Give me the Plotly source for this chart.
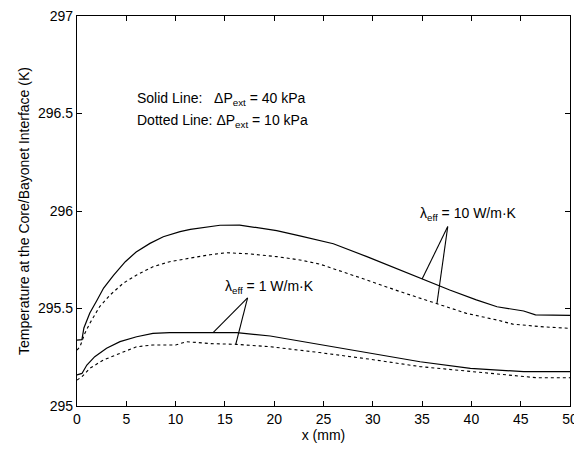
import plotly.graph_objects as go

# ---- data ----
x_hi_solid = [0, 0.5, 0.7, 1.3, 2.0, 2.7, 3.7, 4.9, 6.0, 7.4, 8.75, 10.45, 11.5, 13, 14.5, 16.5,
              18.9, 20.25, 22.6, 24.6, 26, 29.4, 32.8, 35.0, 37.8, 40.5, 42.6, 45.3, 46.5, 50]
y_hi_solid = [295.338, 295.34, 295.40, 295.477, 295.54, 295.605, 295.67, 295.74, 295.79, 295.834,
              295.868, 295.894, 295.906, 295.918, 295.927, 295.928, 295.91, 295.899, 295.872,
              295.848, 295.832, 295.766, 295.697, 295.651, 295.595, 295.544, 295.509, 295.487,
              295.467, 295.465]

x_hi_dot = [0, 0.3, 0.8, 1.3, 2.3, 3.35, 4.7, 6.05, 7.7, 9.4, 11.3, 13.5, 15.2, 17.5, 20.25,
            22.6, 24.6, 26, 29.4, 32.8, 36.5, 39.5, 42.6, 44.2, 47, 50]
y_hi_dot = [295.287, 295.304, 295.373, 295.424, 295.51, 295.569, 295.63, 295.672, 295.714, 295.74,
            295.757, 295.776, 295.786, 295.78, 295.766, 295.749, 295.728, 295.705, 295.646,
            295.586, 295.523, 295.475, 295.441, 295.42, 295.407, 295.398]

x_lo_solid = [0, 0.5, 1.0, 1.8, 3.0, 4.36, 6.05, 7.7, 9.4, 16.2, 19.6, 24.6, 29.7, 34.8, 39.9,
              45.3, 50]
y_lo_solid = [295.159, 295.167, 295.21, 295.253, 295.296, 295.33, 295.355, 295.372, 295.376,
              295.376, 295.359, 295.316, 295.274, 295.227, 295.193, 295.176, 295.176]

x_lo_dot = [0, 0.5, 1.3, 2.67, 4.36, 6.05, 7.7, 10.0, 11.1, 13.5, 16.2, 19.6, 24.6, 29.7, 34.8,
            39.9, 43.2, 46.6, 50]
y_lo_dot = [295.133, 295.15, 295.193, 295.236, 295.27, 295.304, 295.313, 295.313, 295.33, 295.32,
            295.316, 295.304, 295.274, 295.24, 295.202, 295.176, 295.159, 295.145, 295.145]

x_ticks = [0, 5, 10, 15, 20, 25, 30, 35, 40, 45, 50]
y_ticks = [295, 295.5, 296, 296.5, 297]
y_tick_text = ["295", "295.5", "296", "296.5", "297"]

x_title = "x (mm)"
y_title = "Temperature at the Core/Bayonet Interface (K)"

legend_lines = ["Solid Line:   ΔP<sub>ext</sub> = 40 kPa", "Dotted Line: ΔP<sub>ext</sub> = 10 kPa"]
label_hi = "λ<sub>eff</sub> = 10 W/m·K"
label_lo = "λ<sub>eff</sub> = 1 W/m·K"

# leader-line anchors (data coords): tip, and the two points on the curves
hi_tip, hi_ends = (37.6, 295.92), [(35.0, 295.651), (36.5, 295.523)]
lo_tip, lo_ends = (17.3, 295.554), [(13.8, 295.376), (16.1, 295.316)]

FONT = "Liberation Sans, Arial, sans-serif"

fig = go.Figure()
solid = dict(color="black", width=1.2)
dotted = dict(color="black", width=1.1, dash="3px,3px")
fig.add_trace(go.Scatter(x=x_hi_solid, y=y_hi_solid, mode="lines", line=solid))
fig.add_trace(go.Scatter(x=x_hi_dot, y=y_hi_dot, mode="lines", line=dotted))
fig.add_trace(go.Scatter(x=x_lo_solid, y=y_lo_solid, mode="lines", line=solid))
fig.add_trace(go.Scatter(x=x_lo_dot, y=y_lo_dot, mode="lines", line=dotted))

shapes = []
for tip, ends in [(hi_tip, hi_ends), (lo_tip, lo_ends)]:
    for e in ends:
        shapes.append(dict(type="line", xref="x", yref="y", x0=tip[0], y0=tip[1], x1=e[0], y1=e[1],
                           line=dict(color="black", width=1.1)))

annotations = [
    dict(x=5.9, y=296.575, text=legend_lines[0], xanchor="left", yanchor="middle", showarrow=False),
    dict(x=5.9, y=296.46, text=legend_lines[1], xanchor="left", yanchor="middle", showarrow=False),
    dict(x=34.6, y=295.985, text=label_hi, xanchor="left", yanchor="middle", showarrow=False),
    dict(x=14.8, y=295.61, text=label_lo, xanchor="left", yanchor="middle", showarrow=False),
]
for a in annotations:
    a["font"] = dict(family=FONT, size=14, color="black")

axis_common = dict(showline=True, linecolor="black", linewidth=1.3, mirror="ticks",
                   ticks="inside", ticklen=5, tickwidth=1, tickcolor="black",
                   showgrid=False, zeroline=False, ticklabeloverflow="allow",
                   tickfont=dict(family=FONT, size=14, color="black"))

fig.update_layout(
    width=574, height=450,
    margin=dict(l=77, r=4, t=16, b=44, autoexpand=False),
    paper_bgcolor="white", plot_bgcolor="white",
    showlegend=False,
    shapes=shapes, annotations=annotations,
    xaxis=dict(range=[0, 50], tickvals=x_ticks, **axis_common,
               title=dict(text=x_title, font=dict(family=FONT, size=14, color="black"), standoff=3)),
    yaxis=dict(range=[295, 297], tickvals=y_ticks, ticktext=y_tick_text, **axis_common,
               title=dict(text=y_title, font=dict(family=FONT, size=14, color="black"), standoff=5)),
)

fig.write_html("out.html")
